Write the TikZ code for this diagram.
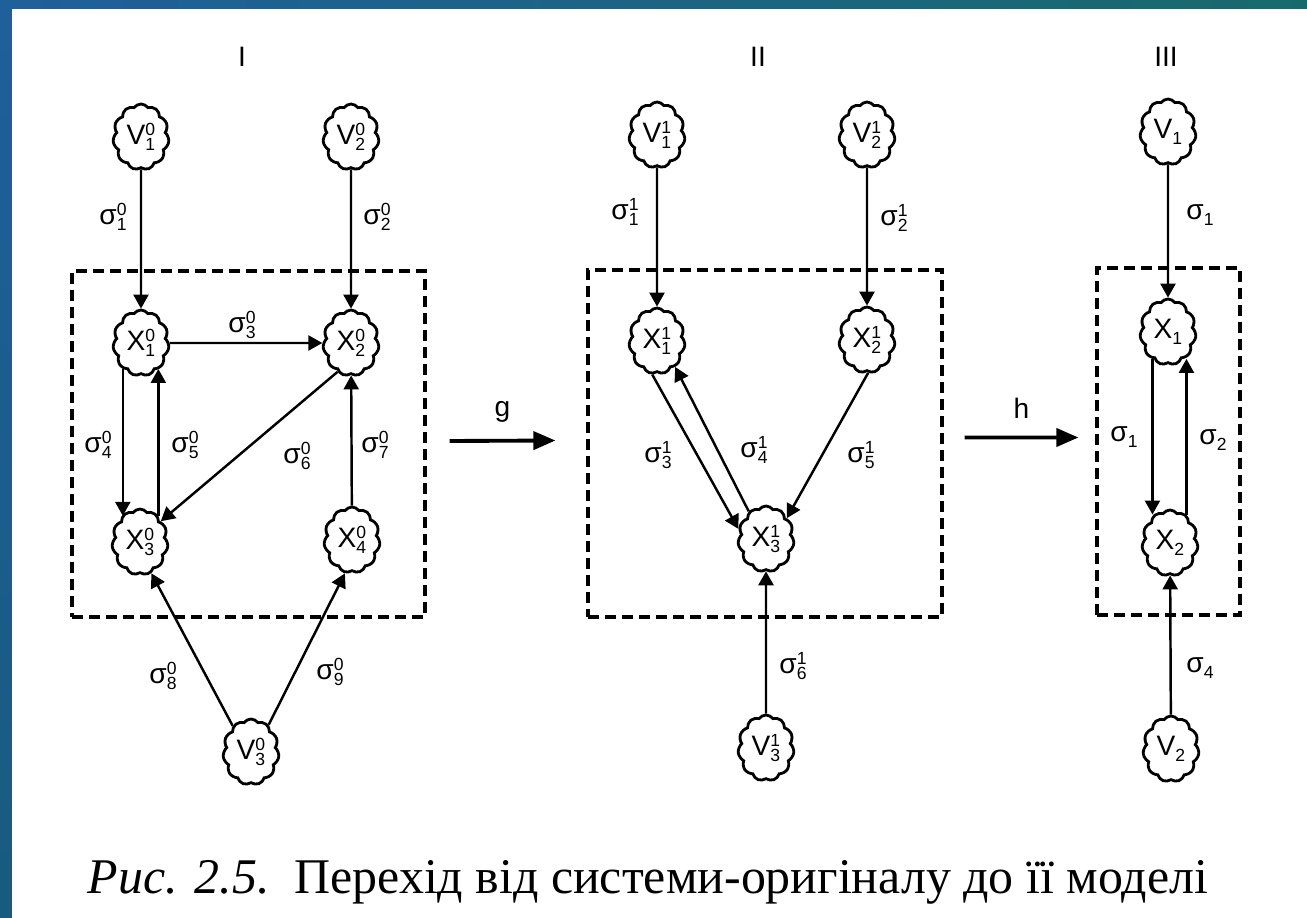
\documentclass[tikz,border=0pt]{standalone}
\usepackage{fontspec}
\setmainfont{Liberation Serif}
\setsansfont{Liberation Sans}
\usetikzlibrary{positioning,arrows.meta,shapes.symbols,calc}
\definecolor{seablue}{HTML}{1F5F9B}
\definecolor{seadeep}{HTML}{185B80}
\definecolor{seateal}{HTML}{176A6C}
\newcommand{\stk}[3]{#1\rlap{\raisebox{-1.7pt}{\tiny #2}}\raisebox{2.7pt}{\tiny #3}}
\newcommand{\lowix}[2]{#1\raisebox{-1.7pt}{\tiny #2}}

\begin{document}
\begin{tikzpicture}[
  font=\sffamily\footnotesize,
  puff/.style={draw,line width=0.8pt,cloud,cloud puffs=11,cloud puff arc=110,
               minimum width=5.6mm,minimum height=6.6mm,inner sep=0pt},
  frame/.style={draw,dash pattern=on 1.1mm off 0.6mm,line width=0.9pt},
  lnk/.style={-{Triangle[length=1.4mm,width=1.5mm]},line width=0.7pt},
  big/.style={-{Triangle[length=2.2mm,width=1.8mm]},line width=1.1pt}
]
\useasboundingbox (0,0) rectangle (13.07,-9.18);
% slide background
\fill[white] (0,0) rectangle (13.07,-9.18);
\shade[left color=seablue,right color=seateal] (0,0) rectangle (13.07,-0.08);
\shade[top color=seablue,bottom color=seadeep] (0,0) rectangle (0.12,-9.18);

% titles
\node (tI)   at (2.42,-0.57) {I};
\node (tII)  at (7.58,-0.57) {II};
\node (tIII) at (11.66,-0.57) {III};

% I: original system
\node[frame,minimum width=35.3mm,minimum height=34.6mm] (boxI) at (2.485,-4.44) {};
\node[puff] (v1a) at (1.41,-1.37) {\stk{V}{1}{0}};
\node[puff] (v2a) at (3.51,-1.37) {\stk{V}{2}{0}};
\node[puff] (x1a) at (1.41,-3.43) {\stk{X}{1}{0}};
\node[puff] (x2a) at (3.51,-3.43) {\stk{X}{2}{0}};
\node[puff] (x3a) at (1.40,-5.42) {\stk{X}{3}{0}};
\node[puff] (x4a) at (3.52,-5.40) {\stk{X}{4}{0}};
\node[puff] (v3a) at (2.51,-7.52) {\stk{V}{3}{0}};
\draw[lnk] (v1a) -- (x1a);
\draw[lnk] (v2a) -- (x2a);
\draw[lnk] (x1a) -- (x2a);
\draw[lnk] (x1a.235) -- (x1a.235|-x3a.125);
\draw[lnk] (x3a.55) -- (x3a.55|-x1a.305);
\draw[lnk] (x2a.245) -- (x3a.45);
\draw[lnk] (x4a) -- (x2a);
\draw[lnk] (v3a.125) -- (x3a.290);
\draw[lnk] (v3a.57) -- (x4a.258);
\node (s1a) at (1.13,-2.17) {\stk{σ}{1}{0}};
\node (s2a) at (3.77,-2.17) {\stk{σ}{2}{0}};
\node (s3a) at (2.42,-3.25) {\stk{σ}{3}{0}};
\node (s4a) at (0.98,-4.45) {\stk{σ}{4}{0}};
\node (s5a) at (1.85,-4.45) {\stk{σ}{5}{0}};
\node (s6a) at (2.97,-4.56) {\stk{σ}{6}{0}};
\node (s7a) at (3.75,-4.45) {\stk{σ}{7}{0}};
\node (s8a) at (1.63,-6.76) {\stk{σ}{8}{0}};
\node (s9a) at (3.30,-6.72) {\stk{σ}{9}{0}};

% II: aggregated system
\node[frame,minimum width=35.4mm,minimum height=34.7mm] (boxII) at (7.65,-4.435) {};
\node[puff] (v1b) at (6.57,-1.35) {\stk{V}{1}{1}};
\node[puff] (v2b) at (8.67,-1.35) {\stk{V}{2}{1}};
\node[puff] (x1b) at (6.57,-3.41) {\stk{X}{1}{1}};
\node[puff] (x2b) at (8.67,-3.40) {\stk{X}{2}{1}};
\node[puff] (x3b) at (7.66,-5.39) {\stk{X}{3}{1}};
\node[puff] (v3b) at (7.66,-7.48) {\stk{V}{3}{1}};
\draw[lnk] (v1b) -- (x1b);
\draw[lnk] (v2b) -- (x2b);
\draw[lnk] (x1b.262) -- (x3b.160);
\draw[lnk] (x3b.122) -- (x1b.305);
\draw[lnk] (x2b.272) -- (x3b.45);
\draw[lnk] (v3b) -- (x3b);
\node (s1b) at (6.25,-2.12) {\stk{σ}{1}{1}};
\node (s2b) at (8.94,-2.18) {\stk{σ}{2}{1}};
\node (s3b) at (6.58,-4.55) {\stk{σ}{3}{1}};
\node (s4b) at (7.54,-4.50) {\stk{σ}{4}{1}};
\node (s5b) at (8.61,-4.55) {\stk{σ}{5}{1}};
\node (s6b) at (7.93,-6.66) {\stk{σ}{6}{1}};

% III: model
\node[frame,minimum width=14.3mm,minimum height=34.7mm] (boxIII) at (11.685,-4.415) {};
\node[puff] (v1c) at (11.68,-1.32) {\lowix{V}{1}};
\node[puff] (x1c) at (11.68,-3.32) {\lowix{X}{1}};
\node[puff] (x2c) at (11.70,-5.43) {\lowix{X}{2}};
\node[puff] (v2c) at (11.71,-7.49) {\lowix{V}{2}};
\draw[lnk] (v1c) -- (x1c);
\draw[lnk] (x1c.240) -- (x1c.240|-x2c.120);
\draw[lnk] (x2c.60) -- (x2c.60|-x1c.300);
\draw[lnk] (v2c) -- (x2c);
\node (s1c) at (12.00,-2.15) {\lowix{σ}{1}};
\node (s1d) at (11.24,-4.37) {\lowix{σ}{1}};
\node (s2c) at (12.13,-4.40) {\lowix{σ}{2}};
\node (s4c) at (12.00,-6.68) {\lowix{σ}{4}};

% transitions
\draw[big] ([shift={(0.23,0.03)}]boxI.east) -- node[above=0.5mm] (g) {g} ([shift={(-0.31,0.03)}]boxII.west);
\draw[big] ([shift={(0.21,0.06)}]boxII.east) -- node[above=0.5mm] (h) {h} ([shift={(-0.17,0.04)}]boxIII.west);

% caption
\node[font=\rmfamily\fontsize{14.2}{16}\selectfont,anchor=base] (cap) at (6.48,-8.93)
  {\textit{Рис. 2.5.}\ \ Перехід від системи-оригіналу до її моделі};
\end{tikzpicture}
\end{document}
